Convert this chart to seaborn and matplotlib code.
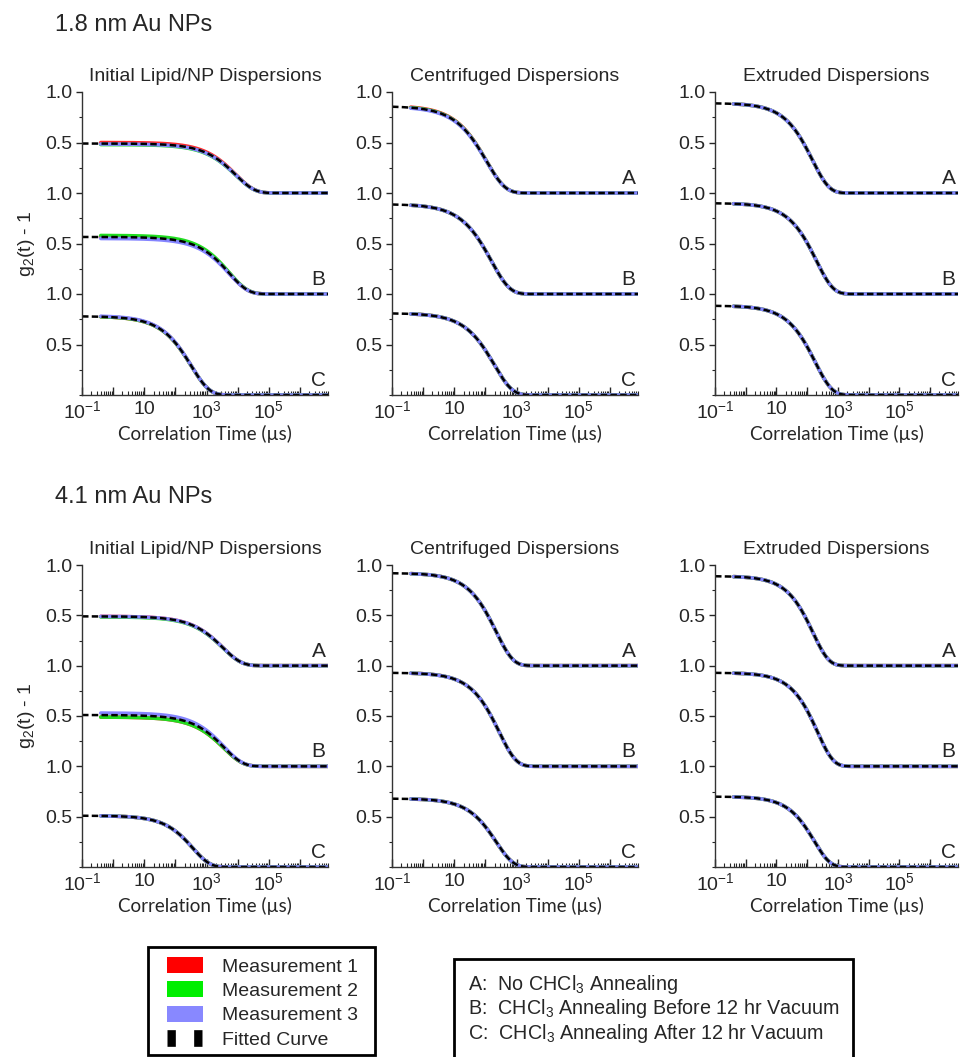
import numpy as np
import matplotlib
matplotlib.use('Agg')
import matplotlib.pyplot as plt
from matplotlib.patches import Patch, Rectangle
from matplotlib.lines import Line2D
from matplotlib.ticker import LogLocator, FixedLocator, MultipleLocator
import seaborn as sns

# panel / curve names
sizes = ['1.8 nm Au NPs', '4.1 nm Au NPs']
stages = ['Initial Lipid/NP Dispersions', 'Centrifuged Dispersions', 'Extruded Dispersions']
samples = ['A', 'B', 'C']
meas_names = ['Measurement 1', 'Measurement 2', 'Measurement 3']

# fitted intercepts (g2(0)-1), [stage][sample A, B, C]
fit_beta_18 = [[0.49, 0.565, 0.78], [0.86, 0.89, 0.81], [0.89, 0.90, 0.885]]
fit_beta_41 = [[0.49, 0.51, 0.51], [0.92, 0.93, 0.68], [0.89, 0.93, 0.70]]

# half-decay times (us)
t_half_18 = [[5200, 3200, 200], [65, 95, 120], [93, 125, 115]]
t_half_41 = [[2000, 2200, 230], [140, 175, 140], [100, 140, 110]]

# stretching exponent of the fitted decay
stretch_18 = [[0.72, 0.72, 0.75], [0.72, 0.74, 0.76], [0.8, 0.8, 0.8]]
stretch_41 = [[0.72, 0.72, 0.8], [0.8, 0.8, 0.8], [0.85, 0.85, 0.85]]

# measured intercepts per measurement [stage][sample][meas 1, 2, 3]
meas_beta_18 = [
    [[0.50, 0.48, 0.485], [0.565, 0.58, 0.55], [0.78, 0.78, 0.785]],
    [[0.865, 0.86, 0.855], [0.89, 0.89, 0.89], [0.81, 0.81, 0.81]],
    [[0.89, 0.89, 0.89], [0.90, 0.90, 0.90], [0.885, 0.885, 0.885]],
]
meas_beta_41 = [
    [[0.49, 0.485, 0.49], [0.49, 0.49, 0.53], [0.51, 0.51, 0.51]],
    [[0.92, 0.92, 0.92], [0.93, 0.93, 0.93], [0.68, 0.68, 0.68]],
    [[0.89, 0.89, 0.89], [0.93, 0.93, 0.93], [0.70, 0.70, 0.70]],
]

fit_beta = [fit_beta_18, fit_beta_41]
t_half = [t_half_18, t_half_41]
stretch = [stretch_18, stretch_41]
meas_beta = [meas_beta_18, meas_beta_41]

offsets = [2.0, 1.0, 0.0]
meas_colors = ['#ff2a2a', '#22dd22', '#8585ff']
legend_colors = ['#ff0000', '#00ee00', '#8888ff']

x_min, x_max = 0.1, 8e6
t_fit = np.logspace(np.log10(x_min), np.log10(x_max), 500)
t_meas = np.logspace(np.log10(0.4), np.log10(x_max), 500)


def decay(t, beta, th, p):
    return beta * np.exp(-np.log(2) * (t / th) ** p)


sns.set_theme(style='ticks')
plt.rcParams['font.family'] = ['Liberation Sans', 'DejaVu Sans']
plt.rcParams['mathtext.fontset'] = 'custom'
plt.rcParams['mathtext.rm'] = 'Liberation Sans'
plt.rcParams['mathtext.it'] = 'Liberation Sans:italic'

W, H = 964, 1057
fig = plt.figure(figsize=(W / 100, H / 100), dpi=100)

col_left = [82, 392, 715]
col_w = [246, 246, 243]
row_top = [92, 565]
row_h = [303, 302]
head_y = [25, 497]

for r in range(2):
    fig.text(55 / W, 1 - head_y[r] / H, sizes[r], fontsize=17, ha='left', va='center')
    for c in range(3):
        ax = fig.add_axes([col_left[c] / W, 1 - (row_top[r] + row_h[r]) / H,
                           col_w[c] / W, row_h[r] / H])
        for s in range(3):
            off = offsets[s]
            for m in range(3):
                y = decay(t_meas, meas_beta[r][c][s][m], t_half[r][c][s], stretch[r][c][s]) + off
                sns.lineplot(x=t_meas, y=y, ax=ax, color=meas_colors[m], lw=2.6,
                             estimator=None, sort=False, legend=False)
            yf = decay(t_fit, fit_beta[r][c][s], t_half[r][c][s], stretch[r][c][s]) + off
            sns.lineplot(x=t_fit, y=yf, ax=ax, color='black', lw=1.8,
                         linestyle=(0, (2.6, 1.3)), estimator=None, sort=False, legend=False)
            ax.text(0.99, off + 0.05, samples[s], transform=ax.get_yaxis_transform(),
                    ha='right', va='bottom', fontsize=15)

        ax.set_xscale('log')
        ax.set_xlim(x_min, x_max)
        ax.set_ylim(0, 3.0)
        decades = [10.0 ** k for k in range(-1, 7)]
        ax.xaxis.set_major_locator(FixedLocator(decades))
        lab = {-1: '$\\mathregular{10^{-1}}$', 1: '10', 3: '$\\mathregular{10^{3}}$',
               5: '$\\mathregular{10^{5}}$'}
        ax.set_xticklabels([lab.get(k, '') for k in range(-1, 7)])
        ax.xaxis.set_minor_locator(LogLocator(base=10, subs=np.arange(2, 10), numticks=20))
        ax.xaxis.set_minor_formatter(plt.NullFormatter())
        ax.set_yticks([0.5, 1.0, 1.5, 2.0, 2.5, 3.0])
        ax.set_yticklabels(['0.5', '1.0', '0.5', '1.0', '0.5', '1.0'])
        ax.yaxis.set_minor_locator(MultipleLocator(0.25))
        ax.tick_params(axis='x', which='major', direction='in', length=6, width=1,
                       labelsize=14, pad=4)
        ax.tick_params(axis='x', which='minor', direction='in', length=3, width=0.8)
        ax.tick_params(axis='y', which='major', direction='out', length=4, width=1,
                       labelsize=14, pad=3)
        ax.tick_params(axis='y', which='minor', direction='out', length=2.5, width=0.8)
        sns.despine(ax=ax)
        for sp in ['left', 'bottom']:
            ax.spines[sp].set_linewidth(1.0)
            ax.spines[sp].set_color('#333333')
        ax.set_title(stages[c], fontsize=14, pad=8)
        ax.set_xlabel('Correlation Time (µs)', fontsize=13.5, labelpad=2,
                      family=['Lato', 'DejaVu Sans'])
        if c == 0:
            ax.set_ylabel('g$_\\mathregular{2}$(t) - 1', fontsize=14, labelpad=6)
        else:
            ax.set_ylabel('')

# legend for measurements (frame drawn separately)
handles = [Patch(facecolor=legend_colors[i], edgecolor='none', label=meas_names[i]) for i in range(3)]
handles.append(Line2D([0], [0], color='black', lw=12, linestyle=(0, (0.5, 1.1)),
                      solid_capstyle='butt', dash_capstyle='butt', label='Fitted Curve'))
leg = fig.legend(handles=handles, loc='upper left', bbox_to_anchor=(167 / W, 1 - 957 / H),
                 fontsize=14, frameon=False, handlelength=1.85, handleheight=0.87,
                 handletextpad=1.0, labelspacing=0.3, borderpad=0, borderaxespad=0)
fig.patches.append(Rectangle((148 / W, 1 - 1055 / H), (375 - 148) / W, (1055 - 947) / H,
                             transform=fig.transFigure, fill=False, edgecolor='black', lw=2))

# legend for sample labels
txt = ('A:  No CHCl$_\\mathregular{3}$ Annealing\n'
       'B:  CHCl$_\\mathregular{3}$ Annealing Before 12 hr Vacuum\n'
       'C:  CHCl$_\\mathregular{3}$ Annealing After 12 hr Vacuum')
fig.text(468 / W, 1 - 973 / H, txt, fontsize=14.2, ha='left', va='top', linespacing=1.08,
         bbox=dict(boxstyle='square,pad=0.7', facecolor='white', edgecolor='black', lw=2))

fig.savefig('out.png', dpi=100)
